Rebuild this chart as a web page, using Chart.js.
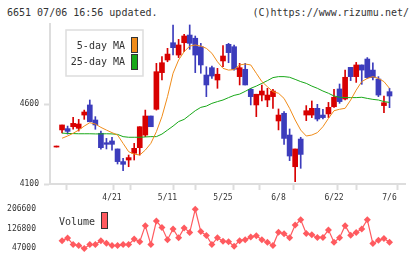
<!DOCTYPE html>
<html>
<head>
<meta charset="utf-8">
<script src="https://cdn.jsdelivr.net/npm/chart.js@4.4.0/dist/chart.umd.min.js"></script>
<style>
    body { margin: 0; width: 420px; height: 259px; overflow: hidden; position: relative; background: #fff;
           font-family: 'DejaVu Sans Mono', monospace; color: #333; }
    .head { position: absolute; top: 7px; font-size: 10px; line-height: 12px; white-space: pre; }
    #title { left: 7px; }
    #copy { right: 11px; }
    #priceChart { position: absolute; left: 0; top: 0; }
    #volumeChart { position: absolute; left: 0; top: 195px; }
</style>
</head>
<body>
<div class="head" id="title">6651 07/06 16:56 updated.</div>
<div class="head" id="copy">(C)https://www.rizumu.net/</div>
<canvas id="priceChart" width="420" height="205"></canvas>
<canvas id="volumeChart" width="420" height="64"></canvas>
<script>
// data harga harian (61 hari bursa)
const opens  = [4331, 4438, 4446, 4458, 4448, 4531, 4594, 4500, 4417, 4358, 4369, 4319, 4240, 4250, 4292, 4327, 4406, 4525, 4567, 4796,
                4875, 4983, 4906, 4983, 5031, 5011, 4958, 4781, 4827, 4750, 4869, 4973, 4958, 4771, 4817, 4692, 4594, 4656, 4625, 4646,
                4494, 4542, 4406, 4208, 4381, 4531, 4531, 4573, 4531, 4538, 4583, 4694, 4631, 4829, 4771, 4844, 4881, 4812, 4756, 4590, 4677];
const highs  = [4331, 4469, 4462, 4517, 4504, 4562, 4625, 4521, 4431, 4385, 4392, 4319, 4260, 4281, 4354, 4458, 4562, 4525, 4854, 4896,
                4948, 5094, 5004, 5036, 5094, 5025, 4979, 4833, 4837, 4823, 4965, 4979, 4969, 4854, 4854, 4698, 4661, 4719, 4698, 4692,
                4569, 4552, 4444, 4319, 4392, 4590, 4619, 4598, 4567, 4610, 4692, 4725, 4812, 4829, 4860, 4844, 4890, 4858, 4771, 4650, 4698];
const lows   = [4331, 4420, 4412, 4442, 4431, 4504, 4489, 4442, 4317, 4319, 4312, 4225, 4183, 4208, 4250, 4281, 4396, 4458, 4562, 4750,
                4864, 4906, 4890, 4927, 4942, 4796, 4792, 4646, 4760, 4698, 4833, 4858, 4812, 4719, 4719, 4594, 4521, 4619, 4583, 4573,
                4438, 4348, 4246, 4114, 4198, 4496, 4515, 4494, 4506, 4515, 4579, 4604, 4625, 4746, 4735, 4723, 4760, 4750, 4646, 4546, 4577];
const closes = [4331, 4469, 4429, 4479, 4475, 4550, 4489, 4469, 4327, 4348, 4348, 4240, 4223, 4265, 4323, 4458, 4525, 4458, 4802, 4858,
                4912, 4952, 4969, 5025, 4979, 4906, 4844, 4719, 4775, 4786, 4900, 4921, 4817, 4827, 4719, 4646, 4661, 4681, 4656, 4681,
                4531, 4385, 4275, 4319, 4285, 4558, 4573, 4506, 4515, 4579, 4642, 4615, 4767, 4771, 4844, 4812, 4765, 4765, 4656, 4608, 4650];

// garis rata-rata
const ma5  = [null, 4386, 4400, 4417, 4437, 4462, 4483, 4475, 4454, 4437, 4421, 4406, 4354, 4302, 4287, 4281, 4312, 4354, 4427, 4521,
              4646, 4792, 4875, 4927, 4962, 4969, 4962, 4948, 4917, 4864, 4823, 4812, 4815, 4844, 4850, 4844, 4792, 4740, 4708, 4677,
              4667, 4635, 4573, 4500, 4437, 4400, 4406, 4421, 4458, 4510, 4558, 4567, 4573, 4625, 4687, 4740, 4760, 4771, 4760, 4740, 4698];
const ma25 = [null, 4418, 4416, 4415, 4414, 4414, 4414, 4413, 4413, 4414, 4413, 4410, 4396, 4392, 4392, 4392, 4394, 4396, 4396, 4412,
              4437, 4462, 4490, 4504, 4531, 4558, 4579, 4587, 4604, 4615, 4625, 4640, 4654, 4662, 4679, 4698, 4712, 4729, 4746, 4765,
              4771, 4771, 4767, 4754, 4740, 4729, 4712, 4698, 4681, 4667, 4650, 4642, 4640, 4640, 4640, 4642, 4635, 4629, 4625, 4615, 4610];

// volume (hari pertama tanpa transaksi)
const volumes = [null, 77700, 88100, 61800, 57700, 46000, 61800, 61800, 77700, 67000, 57700, 57700, 61800, 61800, 84200, 73600, 138800, 61800, 157500, 130800,
                 81700, 125600, 89700, 129600, 110800, 205400, 114800, 98900, 61800, 89700, 74900, 73600, 55000, 77700, 81700, 92100, 97700, 81700, 70900, 57700,
                 112200, 105600, 89700, 141500, 162700, 106800, 101700, 90900, 90900, 121600, 70900, 89700, 138800, 100100, 110800, 125600, 162700, 65800, 78900, 86900, 70900];

// label tanggal dan sumbu
const dateLabels = ['4/21', '5/11', '5/25', '6/8', '6/22', '7/6'];
const dateIndex  = [10, 20, 30, 40, 50, 60];
const priceTicks = [4100, 4600];
const volumeTicks = [47000, 126800, 206600];
const seriesNames = ['5-day MA', '25-day MA', 'Volume'];

// warna
const upColor = '#d80000';
const downColor = '#3c3cbc';
const ma5Color = '#f08c1a';
const ma25Color = '#18a818';
const volColor = '#ff5a5f';

// rentang sumbu x (indeks hari)
const xMin = -1.17;
const xMax = 62.79;

Chart.defaults.font.family = "'DejaVu Sans Mono', monospace";
Chart.defaults.color = '#333';

const candleColors = opens.map((o, i) => closes[i] >= o ? upColor : downColor);
const bodyData = opens.map((o, i) => ({ x: i, y: [o, closes[i]] }));
const wickData = opens.map((o, i) => ({ x: i, y: [lows[i], highs[i]] }));
const toPoints = arr => arr.map((v, i) => ({ x: i, y: v }));

// tanda tick sumbu x dibagi rata
const markTicks = [];
for (let k = 0; k <= 11; k++) {
    markTicks.push(xMin + k * (xMax - xMin) / 11);
}

// legenda harga (kotak di kiri atas)
const priceLegend = {
    id: 'priceLegend',
    afterDraw(chart) {
        const ctx = chart.ctx;
        ctx.save();
        ctx.fillStyle = '#fff';
        ctx.strokeStyle = '#dddddd';
        ctx.lineWidth = 1.5;
        ctx.fillRect(66, 30, 77, 46);
        ctx.strokeRect(66, 30, 77, 46);
        ctx.font = "10px 'DejaVu Sans Mono'";
        ctx.fillStyle = '#333';
        ctx.textAlign = 'right';
        ctx.textBaseline = 'middle';
        ctx.fillText(seriesNames[0], 125, 46);
        ctx.fillText(seriesNames[1], 125, 62);
        ctx.lineWidth = 1;
        ctx.strokeStyle = '#333';
        ctx.fillStyle = ma5Color;
        ctx.fillRect(131.5, 37.5, 6, 15);
        ctx.strokeRect(131.5, 37.5, 6, 15);
        ctx.fillStyle = ma25Color;
        ctx.fillRect(131.5, 54.5, 6, 15);
        ctx.strokeRect(131.5, 54.5, 6, 15);
        ctx.restore();
    }
};

new Chart(document.getElementById('priceChart'), {
    type: 'bar',
    data: {
        datasets: [
            { type: 'line', label: seriesNames[0], data: toPoints(ma5), borderColor: ma5Color, borderWidth: 1, pointRadius: 0, tension: 0 },
            { type: 'line', label: seriesNames[1], data: toPoints(ma25), borderColor: ma25Color, borderWidth: 1, pointRadius: 0, tension: 0 },
            { label: 'body', data: bodyData, backgroundColor: candleColors, barThickness: 5, minBarLength: 1, grouped: false },
            { label: 'wick', data: wickData, backgroundColor: candleColors, barThickness: 1, minBarLength: 1, grouped: false }
        ]
    },
    options: {
        responsive: false,
        animation: false,
        layout: { padding: { top: 24, right: 15, left: 0, bottom: 0 } },
        plugins: { legend: { display: false }, tooltip: { enabled: false } },
        scales: {
            x: {
                type: 'linear',
                min: xMin,
                max: xMax,
                offset: false,
                afterBuildTicks: scale => {
                    scale.ticks = markTicks.concat(dateIndex).sort((a, b) => a - b).map(v => ({ value: v }));
                },
                afterFit: scale => { scale.height = 21; },
                ticks: {
                    autoSkip: false,
                    maxRotation: 0,
                    padding: 3,
                    font: { size: 8 },
                    callback: value => {
                        const pos = dateIndex.indexOf(value);
                        return pos >= 0 ? dateLabels[pos] : '';
                    }
                },
                grid: {
                    drawOnChartArea: false,
                    tickLength: 6,
                    tickWidth: 2,
                    tickColor: ctx => (ctx.tick && dateIndex.includes(ctx.tick.value)) ? 'rgba(0,0,0,0)' : '#dddddd'
                },
                border: { color: '#dddddd', width: 2 }
            },
            y: {
                min: 4100,
                max: 5100,
                afterBuildTicks: scale => { scale.ticks = priceTicks.map(v => ({ value: v })); },
                afterFit: scale => { scale.width = 50; },
                ticks: { padding: 5, font: { size: 8 }, callback: v => String(v) },
                grid: { drawOnChartArea: false, tickLength: 6, tickWidth: 2, tickColor: '#dddddd' },
                border: { color: '#dddddd', width: 2 }
            }
        }
    },
    plugins: [priceLegend]
});

// legenda volume
const volumeLegend = {
    id: 'volumeLegend',
    afterDraw(chart) {
        const ctx = chart.ctx;
        ctx.save();
        ctx.font = "10px 'DejaVu Sans Mono'";
        ctx.fillStyle = '#333';
        ctx.textAlign = 'left';
        ctx.textBaseline = 'middle';
        ctx.fillText(seriesNames[2], 59, 27);
        ctx.fillStyle = volColor;
        ctx.strokeStyle = '#333';
        ctx.lineWidth = 1;
        ctx.fillRect(101.5, 17.5, 6, 16);
        ctx.strokeRect(101.5, 17.5, 6, 16);
        ctx.restore();
    }
};

new Chart(document.getElementById('volumeChart'), {
    type: 'line',
    data: {
        datasets: [{
            label: seriesNames[2],
            data: toPoints(volumes),
            borderColor: volColor,
            backgroundColor: volColor,
            borderWidth: 1.2,
            pointStyle: 'rectRot',
            pointRadius: 3.5,
            pointBorderWidth: 0,
            tension: 0,
            clip: false
        }]
    },
    options: {
        responsive: false,
        animation: false,
        layout: { padding: { top: 14, right: 15, left: 0, bottom: 10 } },
        plugins: { legend: { display: false }, tooltip: { enabled: false } },
        scales: {
            x: { type: 'linear', min: xMin, max: xMax, display: false },
            y: {
                min: 47000,
                max: 206600,
                afterBuildTicks: scale => { scale.ticks = volumeTicks.map(v => ({ value: v })); },
                afterFit: scale => { scale.width = 50; },
                ticks: { padding: 6, font: { size: 8 }, callback: v => String(v) },
                grid: { display: false },
                border: { display: false }
            }
        }
    },
    plugins: [volumeLegend]
});
</script>
</body>
</html>
